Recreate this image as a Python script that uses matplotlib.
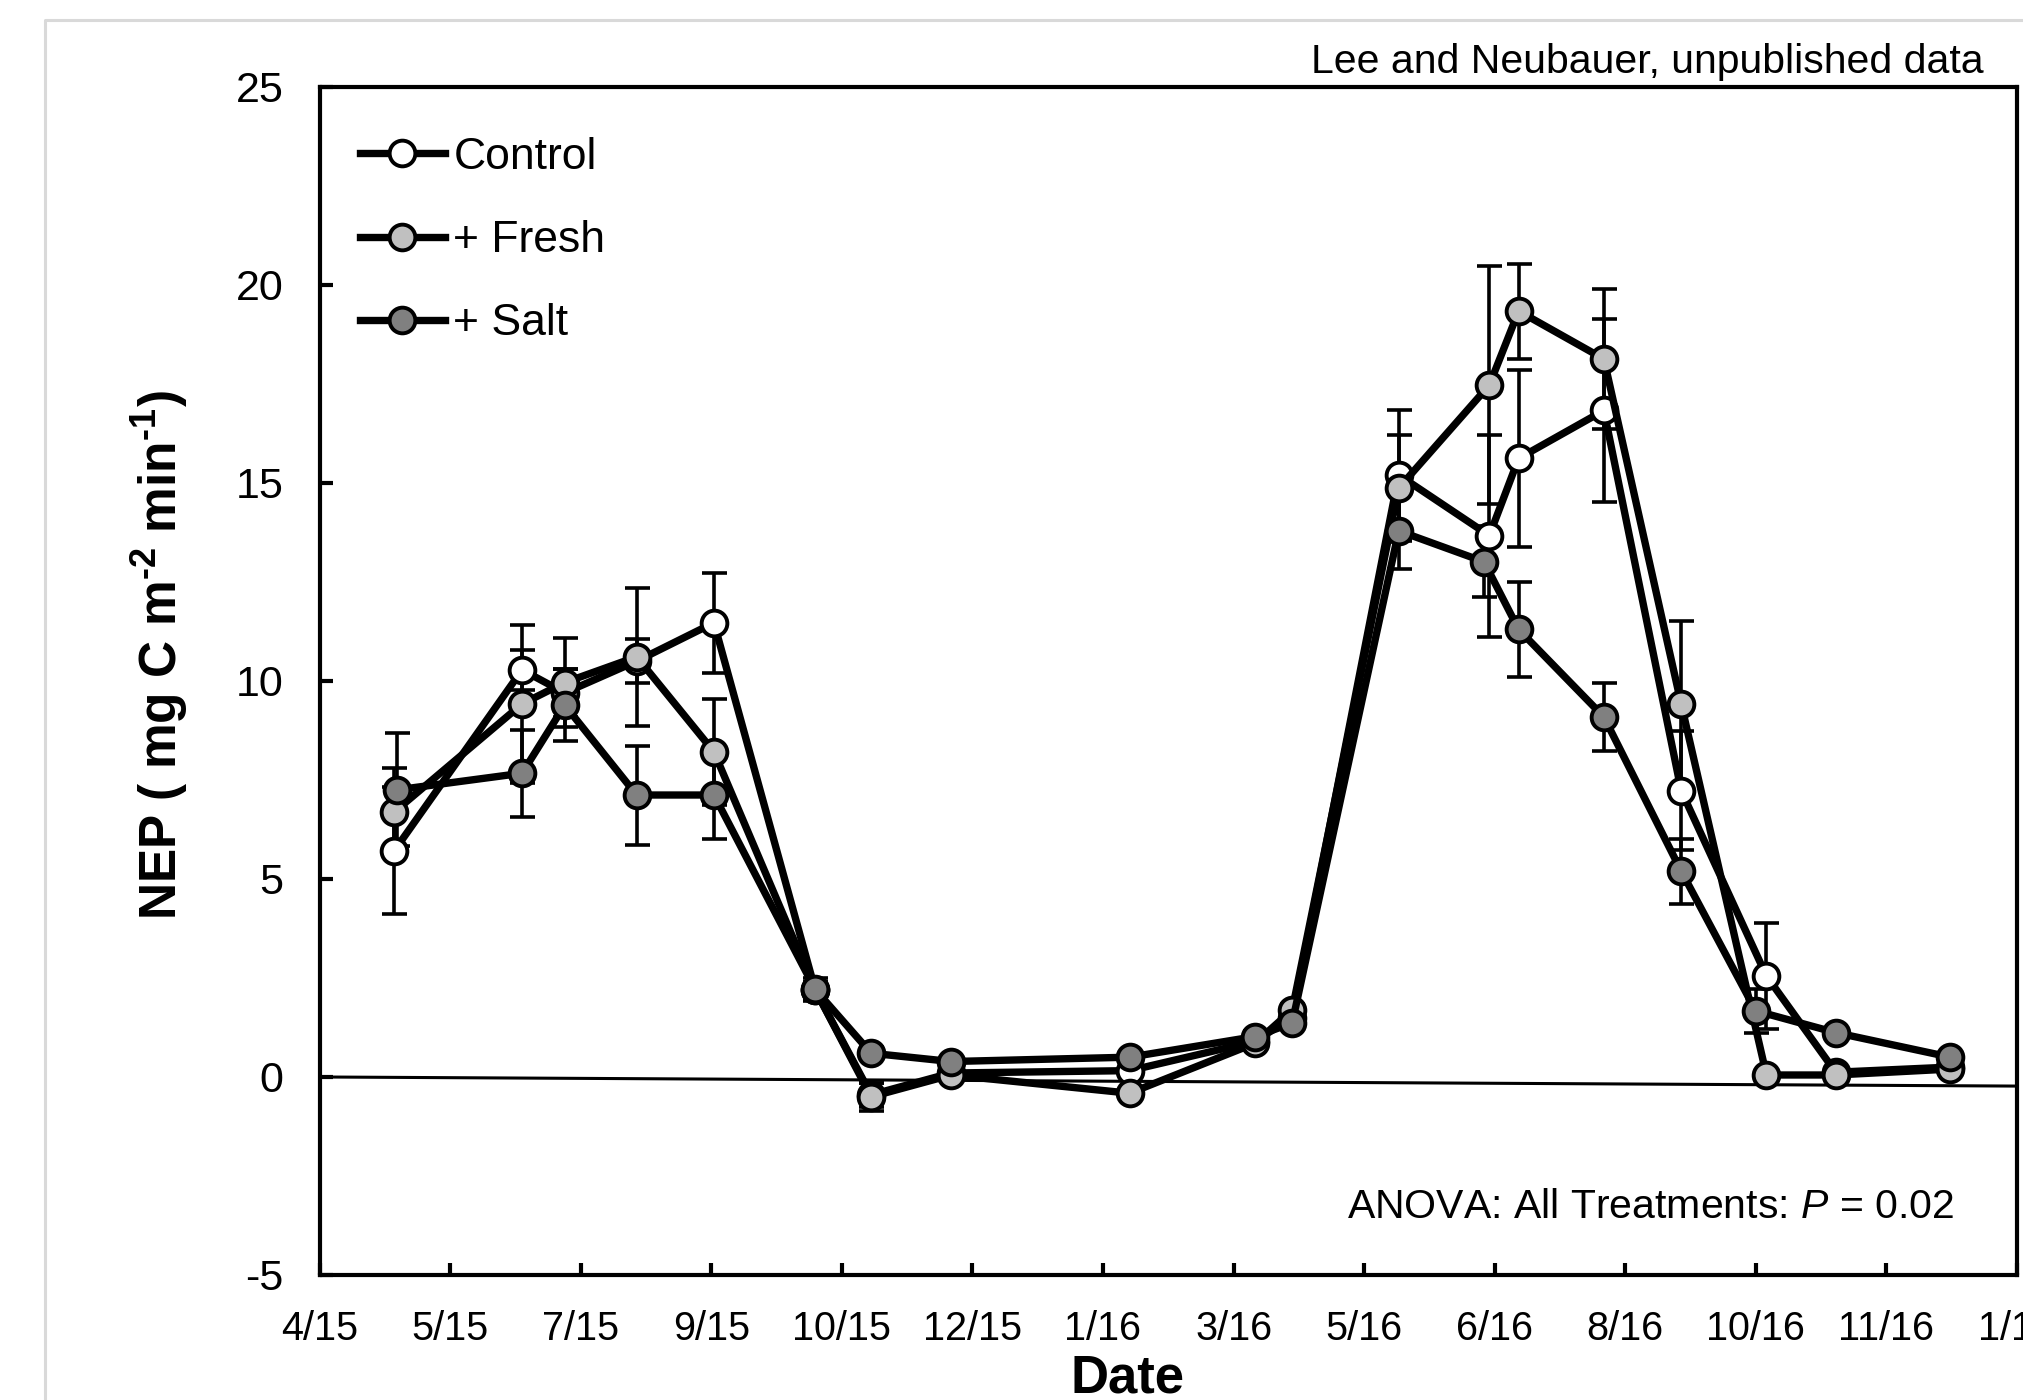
import matplotlib
matplotlib.use("Agg")
import matplotlib.pyplot as plt
import numpy as np
import pandas as pd
from matplotlib.lines import Line2D

plt.rcParams['font.family'] = ['Liberation Sans', 'DejaVu Sans']
plt.rcParams['mathtext.fontset'] = 'custom'
plt.rcParams['mathtext.rm'] = 'Liberation Sans'
plt.rcParams['mathtext.it'] = 'Liberation Sans:italic'
plt.rcParams['mathtext.bf'] = 'Liberation Sans:bold'
plt.rcParams['axes.unicode_minus'] = False

# ---------------- data ----------------
axis_start = "2015-04-11"
tick_step_days = 49
tick_labels = ["4/15", "5/15", "7/15", "9/15", "10/15", "12/15", "1/16",
               "3/16", "5/16", "6/16", "8/16", "10/16", "11/16", "1/17"]

dates = ["2015-05-09", "2015-06-26", "2015-07-12", "2015-08-08", "2015-09-06",
         "2015-10-14", "2015-11-04", "2015-12-04", "2016-02-09", "2016-03-27",
         "2016-04-10", "2016-05-20", "2016-06-23", "2016-07-04", "2016-08-05",
         "2016-09-03", "2016-10-05", "2016-10-31", "2016-12-13"]
salt_dates = ["2015-05-10", "2015-06-26", "2015-07-12", "2015-08-08", "2015-09-06",
              "2015-10-14", "2015-11-04", "2015-12-04", "2016-02-09", "2016-03-27",
              "2016-04-10", "2016-05-20", "2016-06-21", "2016-07-04", "2016-08-05",
              "2016-09-03", "2016-10-01", "2016-10-31", "2016-12-13"]

control = [5.71, 10.28, 9.7, 10.5, 11.47, 2.2, -0.45, 0.1, 0.16, 0.9, 1.5,
           15.2, 13.67, 15.62, 16.83, 7.23, 2.55, 0.12, 0.25]
control_se = [1.6, 0.5, 0.6, 0.55, 1.26, 0.2, 0.3, 0.1, 0.1, 0.1, 0.15,
              1.65, 2.55, 2.23, 2.3, 1.5, 1.33, 0.1, 0.1]

fresh = [6.69, 9.42, 9.96, 10.61, 8.21, 2.2, -0.5, 0.05, -0.41, 0.85, 1.69,
         14.87, 17.47, 19.34, 18.13, 9.42, 0.05, 0.05, 0.2]
fresh_se = [1.1, 2.0, 1.12, 1.75, 1.34, 0.2, 0.35, 0.1, 0.1, 0.1, 0.15,
            1.34, 3.0, 1.2, 1.77, 2.1, 0.1, 0.1, 0.1]

salt = [7.25, 7.67, 9.39, 7.12, 7.12, 2.21, 0.6, 0.39, 0.5, 1.02, 1.36,
        13.79, 13.01, 11.3, 9.09, 5.2, 1.67, 1.12, 0.5]
salt_se = [1.43, 1.1, 0.9, 1.25, 1.1, 0.28, 0.15, 0.1, 0.1, 0.15, 0.15,
           0.96, 0.9, 1.2, 0.85, 0.82, 0.55, 0.1, 0.1]

series_names = ["Control", "+ Fresh", "+ Salt"]
series_colors = ["#ffffff", "#c0c0c0", "#808080"]

zero_line_y = [0.0, -0.23]

# ---------------- helpers ----------------
t0 = pd.Timestamp(axis_start)
def to_days(ds):
    return np.array([(pd.Timestamp(d) - t0).days for d in ds], dtype=float)

x_main = to_days(dates)
x_salt = to_days(salt_dates)
x_max = tick_step_days * (len(tick_labels) - 1)

fig = plt.figure(figsize=(20.24, 14), dpi=100)
ax = fig.add_axes([0.1579, 0.0893, 0.8386, 0.8486])

# figure frame (light gray, partially cut)
fig.add_artist(Line2D([45/2024, 45/2024, 1.01], [-0.01, 1 - 20/1400, 1 - 20/1400],
                      transform=fig.transFigure, color="#d9d9d9", lw=2.2))

# zero reference line
ax.plot([0, x_max], zero_line_y, color="black", lw=2.2, zorder=1.5)

series = [(x_main, control, control_se), (x_main, fresh, fresh_se), (x_salt, salt, salt_se)]

for (xs, ys, es) in series:
    ax.errorbar(xs, ys, yerr=es, fmt="none", ecolor="black", elinewidth=2.6,
                capsize=9, capthick=2.6, zorder=2)

handles = []
for i, ((xs, ys, es), name, col) in enumerate(zip(series, series_names, series_colors)):
    h, = ax.plot(xs, ys, color="black", lw=5.3, marker="o", markersize=18.5,
                 markerfacecolor=col, markeredgecolor="black", markeredgewidth=2.8,
                 zorder=3 + i, label=name, solid_joinstyle="round")
    handles.append(h)

ax.set_xlim(0, x_max)
ax.set_ylim(-5, 25)
ax.set_xticks(np.arange(len(tick_labels)) * tick_step_days)
ax.set_xticklabels(tick_labels)
ax.set_yticks(np.arange(-5, 26, 5))

for s in ax.spines.values():
    s.set_linewidth(3.0)
ax.tick_params(axis="x", direction="in", length=9, width=3, labelsize=28.5, pad=25)
ax.tick_params(axis="y", direction="in", length=9, width=3, labelsize=31, pad=26)

ax.set_xlabel("Date", fontsize=38, fontweight="bold", va="center")
ax.xaxis.set_label_coords(0.476, -0.087)
ax.set_ylabel("NEP ( mg C m$^{\\mathbf{\u20102}}$ min$^{\\mathbf{\u20101}}$)",
              fontsize=37, fontweight="bold", va="center")
ax.yaxis.set_label_coords(-0.094, 0.522)

leg = ax.legend(handles=handles, loc="upper left", bbox_to_anchor=(0.0239, 0.958),
                frameon=False, fontsize=32, handlelength=1.9, handletextpad=0.2,
                labelspacing=0.95, borderpad=0, borderaxespad=0)

fig.text(1984/2024, 1 - 62/1400, "Lee and Neubauer, unpublished data",
         ha="right", va="center", fontsize=29.5)
ax.text(0.963, 0.0576, r"ANOVA: All Treatments: $\mathit{P}$ = 0.02",
        transform=ax.transAxes, ha="right", va="center", fontsize=29.5)

fig.savefig("out.png", dpi=100)
